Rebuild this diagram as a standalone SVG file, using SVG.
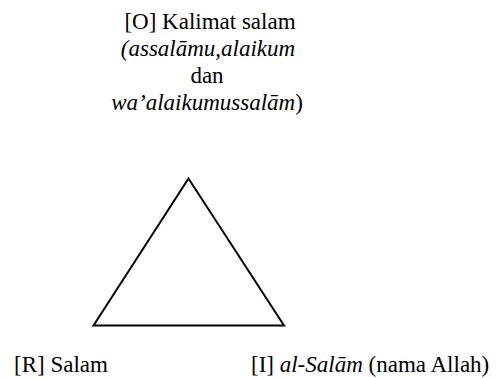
<svg xmlns="http://www.w3.org/2000/svg" width="496" height="378" viewBox="0 0 496 378">
<style>
text{font-family:'Liberation Serif','Times New Roman','DejaVu Serif',serif;font-size:23px;fill:#000}
.i{font-style:italic}
.edge{fill:none;stroke:#000;stroke-width:2;stroke-linejoin:miter}
</style>
<rect width="496" height="378" fill="#fff"/>
<g id="connectors">
<polygon class="edge" points="188.5,178.5 93.5,325.5 284,325.5"/>
</g>
<g id="node-O" font-family="Liberation Serif, serif">
<text x="210" y="29" text-anchor="middle">[O] Kalimat salam</text>
<text x="208" y="56" text-anchor="middle" class="i">(assalāmu,alaikum</text>
<text x="207" y="83" text-anchor="middle">dan</text>
<text x="207" y="110" text-anchor="middle"><tspan class="i">wa’alaikumussalām</tspan>)</text>
</g>
<g id="node-R" font-family="Liberation Serif, serif">
<text x="14" y="372">[R] Salam</text>
</g>
<g id="node-I" font-family="Liberation Serif, serif">
<text x="251" y="372">[I] <tspan class="i">al-Salām</tspan> (nama Allah)</text>
</g>
</svg>
